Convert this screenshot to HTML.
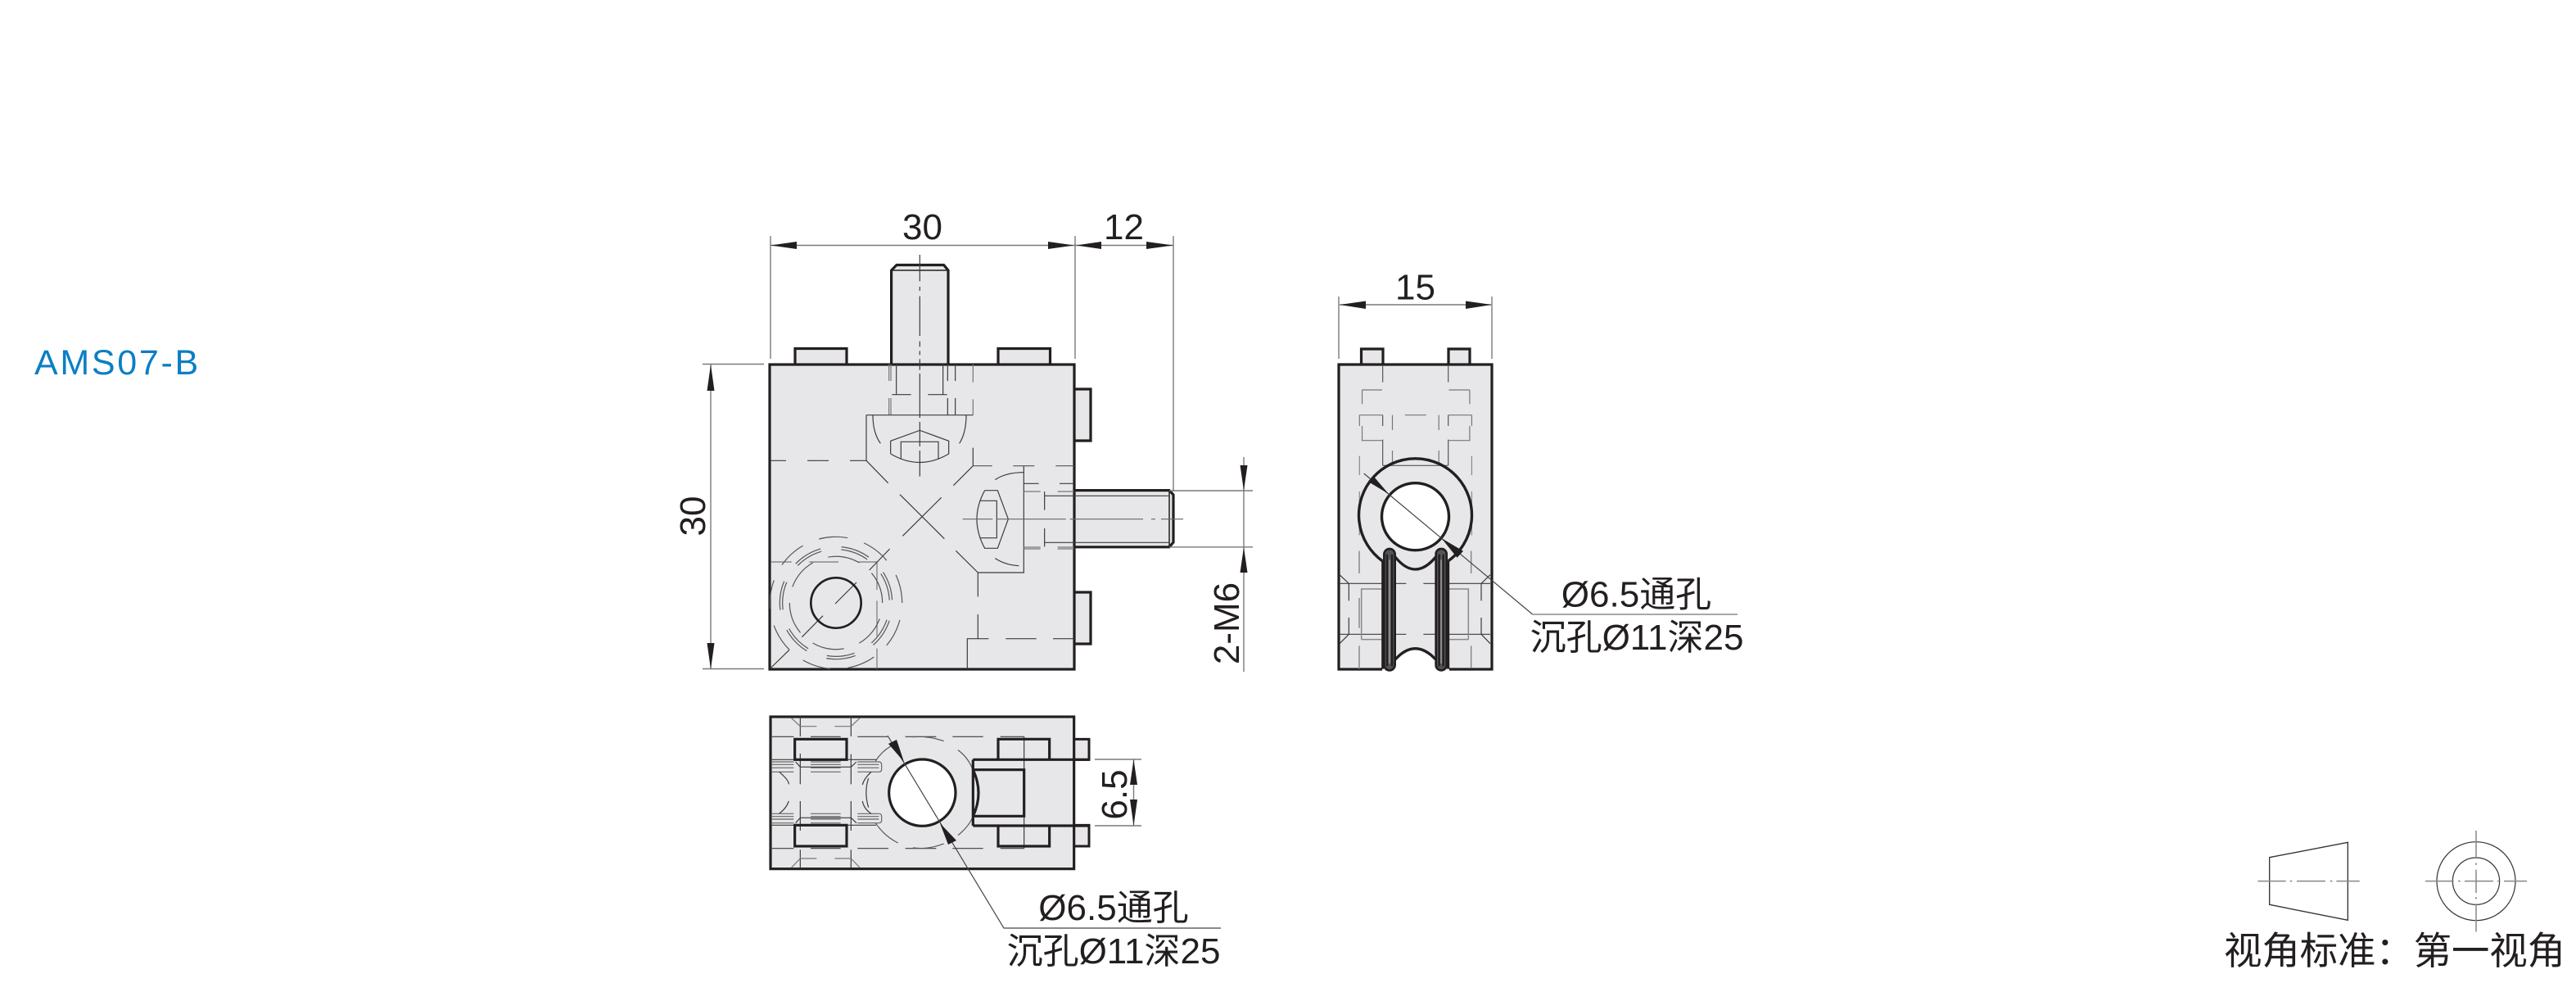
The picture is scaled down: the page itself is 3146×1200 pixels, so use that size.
<!DOCTYPE html>
<html><head><meta charset="utf-8"><style>
html,body{margin:0;padding:0;background:#fff}
svg{display:block}
text{font-family:"Liberation Sans","Noto Sans CJK SC",sans-serif;fill:#231f20;font-size:44px}
.ns *{vector-effect:non-scaling-stroke}
.th{stroke:#231f20;stroke-width:3.2;fill:none}
.dm{stroke:#7a7a7a;stroke-width:1.4;fill:none}
.c{stroke:#8a8a8a;stroke-width:1.4;fill:none}
</style></head><body>
<svg width="3146" height="1200" viewBox="0 0 3146 1200" xmlns="http://www.w3.org/2000/svg">
<rect width="3146" height="1200" fill="#fff"/>
<text x="42" y="457" style="font-size:43px;letter-spacing:2.7px;fill:#0a7fc4">AMS07-B</text>

<!-- FRONT VIEW -->
<g fill="#e7e7e9" stroke="#231f20" stroke-width="3.2">
<path d="M971,445V425.5H1034V445M1219,445V425.5H1282.5V445"/>
<path d="M1312,475H1332V538H1312M1312,723H1332V786H1312"/>
<path d="M1088.6,445V330L1095,323.5H1152.6L1158,330V445"/>
<path d="M1312,598.6H1428L1433,604V662L1428,667.8H1312"/>
<rect x="940" y="445" width="372" height="372"/>
</g>
<path d="M1089,330H1158M1428,599V668" stroke="#231f20" stroke-width="1.5" fill="none"/>
<g transform="translate(920,430) scale(.33333)" fill="none" stroke="#3c3c3c" stroke-width="3.6">
<path d="M524,44V155M695,44V155M508,155H578M640,155H710M712,44V105M712,168V230M740,44V105M740,168V230"/>
<path stroke="#777" d="M497,44V105M504,44V105M497,168V230M504,168V230M805,44V110M805,172V230"/>
<path d="M610,-357V-260M610,-240V-225M610,-205V-60M610,-40V-20M610,-5V10M610,25V65M610,78V240M610,255V345M610,360V455"/>
<path d="M414,230H805M414,230V397M805,350V416M65,397H120M198,397H276M354,397H414M414,397L494,479M805,416L733,488"/>
<path d="M438,230Q438,295 466,334M780,230Q780,295 755,334"/>
<path d="M503,372V325L610,286L716,325V372Q610,435 503,372M541,392V328H678V392"/>
<path d="M537,521L700,683M689,532L547,673"/>
<path stroke="#555" d="M805,416H875M952,416H1030M1108,416H1175"/>
<path d="M991,416V807H823M823,807V895M823,960V1049M742,727L823,807"/>
<path d="M784,1160V1049H862M925,1049H1037M1098,1049H1175"/>
<path d="M886,467Q925,440 991,440M886,755Q925,780 973,782"/>
<path d="M848,506H895L934,611L895,718H848Q790,611 848,506M832,544H892V680H832"/>
<path d="M991,481H1046M1122,481H1175M1067,526H1524M1067,697H1524M1067,510V578M1067,645V712"/>
<path stroke="#777" d="M991,510H1052M1115,510H1175M991,714H1052M1115,714H1175M991,720H1052M1115,720H1175"/>
<path stroke="#666" d="M767,611H877M890,611H1145M1160,611H1428M1458,611H1473M1494,611H1575"/>
<path stroke="#777" d="M65,768H140M205,768H312M385,768H455M453,768V870M453,910V1040M453,1085V1160"/>
<path d="M500,720L425,798M378,843L300,921M255,965L178,1043M132,1090L62,1158"/>
<g stroke="#555">
<circle cx="303" cy="918" r="242" pathLength="360" stroke-dasharray="25 15" transform="rotate(-25 303 918)"/>
<circle cx="303" cy="918" r="170" pathLength="360" stroke-dasharray="40 20" transform="rotate(-40 303 918)"/>
<circle cx="303" cy="918" r="196" pathLength="360" stroke-dasharray="30 21.43" transform="rotate(-33 303 918)"/>
<circle cx="303" cy="918" r="206" pathLength="360" stroke-dasharray="30 21.43" transform="rotate(-33 303 918)"/>
</g>
<circle cx="303" cy="918" r="92" stroke="#231f20" stroke-width="8"/>
</g>
<path class="dm" d="M941,288V438M1313,288V438M1433,288V600M941,299.5H1433M858,444.5H933M858,816.5H933M868,444.5V817M1428,599H1530M1428,667.8H1530M1519,558V820"/>
<g fill="#231f20">
<polygon points="941,299.5 973,295 973,304"/><polygon points="1312,299.5 1280,295 1280,304"/>
<polygon points="1314,299.5 1345,295 1345,304"/><polygon points="1433,299.5 1400,295 1400,304"/>
<polygon points="868,445 863.5,477 872.5,477"/><polygon points="868,817 863.5,785 872.5,785"/>
<polygon points="1519,599 1514.5,568 1523.5,568"/><polygon points="1519,668 1514.5,699 1523.5,699"/>
</g>
<text x="1126.5" y="292" text-anchor="middle">30</text>
<text x="1372.5" y="292" text-anchor="middle">12</text>
<text transform="translate(861,630) rotate(-90)" text-anchor="middle">30</text>
<text transform="translate(1513,761) rotate(-90)" text-anchor="middle">2-M6</text>

<!-- SIDE VIEW -->
<path d="M1635,445H1822V817H1765V800H1690V817H1635Z" fill="#e7e7e9" stroke="none"/>
<path d="M1662.5,445V426H1689V445M1769,445V426H1795V445" fill="#e7e7e9" stroke="#231f20" stroke-width="3.2"/>
<path class="th" d="M1688,817H1635V445H1822V817H1770"/>
<g class="ns" transform="translate(1600,320) scale(.35894,.33333)" fill="none" stroke="#555" stroke-width="1.2">
<path d="M247,378V440M470,378V440M247,560V600M247,650V745M470,560V600M470,650V745M247,745H470"/>
<path stroke="#777" d="M177,468H245M472,468H543M177,468V520M177,600V655M543,468V520M543,600V655M177,653H245M472,653H543"/>
<path stroke="#777" d="M168,560H247M323,560H395M470,560H550M168,560V600M550,560V600M280,560V615M280,690V740M438,560V615M438,690V745"/>
<path stroke="#888" d="M168,710V780M550,710V780M168,840V1000M550,840V1000"/>
</g>
<path class="th" d="M1688.5,685A69,69 0 1 1 1768.5,685" style="stroke-width:3.4"/>
<circle cx="1728.5" cy="630.7" r="41" fill="#fff" stroke="#231f20" stroke-width="3.4"/>
<g transform="translate(1630,660) scale(.33333)">
<g fill="none" stroke="#3c3c3c" stroke-width="3.6">
<path d="M18,157H262M325,157H570M18,343H262M325,343H570M18,125L52,157M570,125L537,157M18,377L52,343M570,377L537,343M52,157V220M52,282V343M537,157V220M537,282V343"/>
<path stroke="#888" stroke-width="4.5" d="M98,362V177H172M490,362V177H418M98,362H172M490,362H418M90,38V120M90,210V320M90,385V470M500,38V120M500,385V465"/>
</g>
<path d="M222,470V450Q295,355 370,450V470Z" fill="#fff"/>
<path d="M222,60Q295,150 370,60M222,435Q295,355 370,435" fill="none" stroke="#231f20" stroke-width="10"/>
<rect x="181" y="30" width="40" height="445" rx="20" fill="#555" stroke="#231f20" stroke-width="8"/>
<rect x="371" y="30" width="39" height="445" rx="19" fill="#555" stroke="#231f20" stroke-width="8"/>
<path d="M192,50V460M210,50V460M383,50V460M398,50V460" stroke="#231f20" stroke-width="7" fill="none"/>
<path d="M201,70V450M390,70V450" stroke="#d8d8d8" stroke-width="2.5" fill="none"/>
<path d="M176,75V470M416,75V470" stroke="#231f20" stroke-width="9" fill="none"/>
</g>
<path d="M1665.7,578L1871.7,750" fill="none" stroke="#444" stroke-width="1.2"/>
<path d="M1871.7,750H2122" stroke="#8a8a8a" stroke-width="1.5"/>
<g fill="#231f20"><polygon points="1696,603 1671,588 1678,582"/><polygon points="1760.4,657 1779.5,680.7 1787,672.7"/></g>
<path class="dm" d="M1635,362V438M1822,362V438M1636,372H1821"/>
<g fill="#231f20"><polygon points="1636,372 1668,367.5 1668,377"/><polygon points="1822,372 1790,367.5 1790,377"/></g>
<text x="1728.5" y="365.5" text-anchor="middle">15</text>
<text x="1998.5" y="740.5" text-anchor="middle">Ø6.5通孔</text>
<text x="1999" y="793" text-anchor="middle">沉孔Ø11深25</text>

<!-- TOP VIEW -->
<g transform="translate(940,874) scale(.33333)">
<path d="M1115,85H1170V160H1115M1115,400H1170V477H1115" fill="#e7e7e9" stroke="#231f20" stroke-width="9"/>
<rect x="3" y="3" width="1112" height="557" fill="#e7e7e9" stroke="#231f20" stroke-width="9.5"/>
<g fill="none" stroke="#3c3c3c" stroke-width="3.6">
<path d="M3,76H88M150,76H260M322,76H432M497,76H610M670,76H782M845,76H932M3,485H88M150,485H260M322,485H435M497,485H610M670,485H782M845,485H932M932,76V485"/>
<path d="M112,3V75M112,138V250M112,312V420M112,490V557M298,3V75M298,140V250M298,312V420M298,490V557"/>
<path stroke="#777" d="M112,38H172M238,38H298M80,8L112,38M330,8L298,38M112,522H172M238,522H298M80,555L112,522M330,555L298,522"/>
<path stroke="#666" d="M5,168H88M150,168H260M322,168H400M5,178H88M150,178H260M322,178H400M5,190H88M150,190H260M322,190H400M5,205H88M150,205H260M322,205H400M400,168Q410,168 410,180V195Q410,205 400,205M5,358H88M150,358H260M322,358H400M5,368H88M150,368H260M322,368H400M5,378H88M150,378H260M322,378H400M5,392H88M150,392H260M322,392H400M400,358Q410,358 410,368V382Q410,392 400,392"/>
<path d="M3,160H90M282,160H390M3,400H92M282,400H390M112,187H298M95,168L112,187M298,187L318,168M112,373H298M95,392L112,373M298,373L318,392"/>
<path d="M35,205Q70,235 70,250M70,312Q60,340 35,357M372,205Q345,230 340,252M362,228Q345,280 362,335M340,312Q345,340 372,358"/>
<path stroke="#555" d="M388,165Q410,130 445,110M525,77Q580,72 638,92M690,125Q730,155 745,200M745,368Q730,405 690,437M638,468Q580,490 525,483M470,465Q420,440 388,392"/>
</g>
<g fill="none" stroke="#231f20" stroke-width="9.5">
<rect x="92" y="85" width="190" height="75"/><rect x="92" y="400" width="190" height="77"/>
<path d="M837,160V85H1025V160M837,402V477H1025V402M745,160H1170M745,402H1170M745,160V402M745,197H932V367H745M745,197Q785,282 745,367"/>
</g>
<circle cx="559" cy="281" r="122" fill="#fff" stroke="#231f20" stroke-width="9.5"/>
</g>
<path d="M1084,898L1226,1133H1491" fill="none" stroke="#444" stroke-width="1.2"/>
<g fill="#231f20"><polygon points="1104,930 1085,908 1095,903"/><polygon points="1148,1005 1158,1031 1168,1026"/></g>
<path class="dm" d="M1337,927H1394M1337,1008H1394M1384.5,927V1008"/>
<g fill="#231f20"><polygon points="1384.5,927 1380,958 1389,958"/><polygon points="1384.5,1008 1380,976 1389,976"/></g>
<text transform="translate(1376,970) rotate(-90)" text-anchor="middle">6.5</text>
<text x="1360" y="1123" text-anchor="middle">Ø6.5通孔</text>
<text x="1360" y="1176" text-anchor="middle">沉孔Ø11深25</text>

<!-- PROJECTION SYMBOL -->
<g transform="translate(2680,1000) scale(.33333)" fill="none">
<path d="M275,140L562,85V370L275,313Z" stroke="#333" stroke-width="4"/>
<circle cx="1032" cy="227" r="144" stroke="#333" stroke-width="3.6"/>
<circle cx="1032" cy="227" r="86" stroke="#333" stroke-width="3.6"/>
<path d="M232,227H335M350,227H358M375,227H480M497,227H505M520,227H605M846,227H950M966,227H974M990,227H1095M1110,227H1118M1134,227H1218M1032,42V145M1032,160V168M1032,185V270M1032,285V293M1032,310V412" stroke="#888" stroke-width="4.5"/>
</g>
<text x="2716" y="1177" style="font-size:46.5px" textLength="417">视角标准：第一视角</text>
</svg>
</body></html>
